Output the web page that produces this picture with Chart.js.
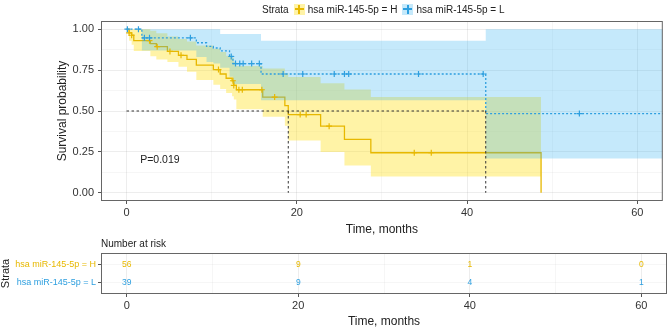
<!DOCTYPE html>
<html><head><meta charset="utf-8">
<script src="https://cdn.jsdelivr.net/npm/chart.js@4.4.1/dist/chart.umd.min.js"></script>
<style>
html,body{margin:0;padding:0;background:#fff;}
body{width:668px;height:330px;overflow:hidden;position:relative;font-family:"Liberation Sans",Arial,Helvetica,sans-serif;}
#main{position:absolute;left:0;top:0;}
#risk{position:absolute;left:0;top:240px;}
.legend{position:absolute;top:1px;left:262px;height:16px;font-size:10px;color:#222;display:flex;align-items:center;white-space:nowrap;}
.key{display:inline-block;width:11px;height:11px;position:relative;margin:0 3px 0 5px;}
.key i{position:absolute;display:block;}
.risktitle{position:absolute;left:101px;top:238px;font-size:10px;color:#222;}
</style></head>
<body>
<canvas id="main" width="668" height="240"></canvas>
<canvas id="risk" width="668" height="90"></canvas>
<div class="legend" id="legend"></div>
<div class="risktitle">Number at risk</div>
<script>
// ---------------- data ----------------
const strataLabels = ['hsa miR-145-5p = H', 'hsa miR-145-5p = L'];
const xTicks = [0, 10, 20, 30, 40, 50, 60];
const yTicks = [0, 0.125, 0.25, 0.375, 0.5, 0.625, 0.75, 0.875, 1];

// group H (high)
const hTime  = [0, 0.3, 0.6, 0.85, 2.8, 3.5, 4.8, 6.1, 7.1, 8.2, 10.2, 11.0, 11.7, 12.4, 12.6, 12.9, 16.0, 18.6, 19.0, 22.8, 25.6, 28.7, 48.7];
const hSurv  = [1.0, 0.977, 0.963, 0.93, 0.912, 0.893, 0.864, 0.84, 0.815, 0.78, 0.753, 0.726, 0.70, 0.685, 0.656, 0.63, 0.585, 0.533, 0.478, 0.407, 0.327, 0.245, 0];
const hUpper = [1.0, 1.0, 1.0, 1.0, 0.99, 0.975, 0.955, 0.94, 0.925, 0.90, 0.88, 0.86, 0.837, 0.825, 0.80, 0.775, 0.76, 0.73, 0.708, 0.67, 0.632, 0.585, 0.585];
const hLower = [1.0, 0.93, 0.905, 0.866, 0.835, 0.815, 0.80, 0.77, 0.74, 0.69, 0.66, 0.635, 0.61, 0.59, 0.57, 0.51, 0.465, 0.41, 0.32, 0.25, 0.167, 0.10, 0.10];
const hCensor = [0.3, 0.6, 2.7, 3.6, 5.1, 6.4, 10.8, 12.5, 12.6, 13.2, 13.6, 15.9, 17.4, 20.4, 21.1, 23.8, 33.8, 35.8];

// group L (low)
const lTime  = [0, 1.8, 8.2, 9.4, 10.2, 11.0, 12.1, 12.5, 15.8, 42.2, 63.0];
const lSurv  = [1.0, 0.947, 0.917, 0.895, 0.885, 0.868, 0.833, 0.79, 0.726, 0.484, 0.484];
const lUpper = [1.0, 1.0, 1.0, 1.0, 1.0, 0.97, 0.97, 0.97, 0.93, 1.0, 1.0];
const lLower = [1.0, 0.87, 0.83, 0.80, 0.79, 0.765, 0.71, 0.665, 0.565, 0.21, 0.21];
const lCensor = [0.1, 1.4, 2.1, 2.7, 7.5, 12.3, 12.8, 13.3, 13.7, 14.7, 15.6, 18.4, 20.7, 24.4, 25.6, 26.1, 34.3, 41.9, 53.2];

const medianH = 19.0;
const medianL = 42.2;
const pValueText = 'P=0.019';

// number at risk
const riskTimes = [0, 20, 40, 60];
const riskH = [56, 9, 1, 0];
const riskL = [39, 9, 4, 1];

// ---------------- style ----------------
const C_H = '#E7B800', C_L = '#2E9FDF';
const BAND_H = 'rgba(255,221,0,0.35)', BAND_L = 'rgba(40,175,240,0.27)';
const FONT = '"Liberation Sans", Arial, Helvetica, sans-serif';
const TICK_COL = '#333', TITLE_COL = '#222';

// legend
(function(){
  const lg = document.getElementById('legend');
  const mk = (col, band) => `<span class="key" style="background:${band}"><i style="left:1px;top:4.75px;width:9px;height:1.5px;background:${col}"></i><i style="left:4.75px;top:1px;width:1.5px;height:9px;background:${col}"></i></span>`;
  lg.innerHTML = `<span>Strata</span>${mk(C_H, BAND_H)}<span>${strataLabels[0]}</span>${mk(C_L, BAND_L)}<span>${strataLabels[1]}</span>`;
})();

const zip = (xs, ys) => xs.map((x, i) => ({x: x, y: ys[i]}));
function survAt(times, survs, t) {
  let v = survs[0];
  for (let i = 0; i < times.length; i++) { if (times[i] <= t) v = survs[i]; }
  return v;
}

const xScaleCommon = {
  type: 'linear', min: -3, max: 63,
  afterBuildTicks: s => { s.ticks = xTicks.map(v => ({value: v})); },
  ticks: { autoSkip: false, maxRotation: 0, padding: 2, color: TICK_COL, font: {family: FONT, size: 11},
           callback: v => (v % 20 === 0 ? String(v) : '') },
  grid: { color: c => (c.tick && c.tick.value % 20 === 0) ? 'rgba(0,0,0,0.07)' : 'rgba(0,0,0,0.035)',
          tickColor: c => (c.tick && c.tick.value % 20 === 0) ? '#555' : 'rgba(0,0,0,0)',
          tickLength: 3, lineWidth: 1 },
  border: { display: false },
  title: { display: true, text: 'Time, months', color: TITLE_COL, font: {family: FONT, size: 12}, padding: {top: 0, bottom: 3} }
};

const panelBox = {
  id: 'panelBox',
  afterDatasetsDraw(chart) {
    const a = chart.chartArea, ctx = chart.ctx;
    ctx.save();
    ctx.strokeStyle = '#666';
    ctx.lineWidth = 1;
    ctx.strokeRect(a.left + 0.5, a.top + 0.5, a.right - a.left - 1, a.bottom - a.top - 1);
    ctx.restore();
  }
};

const pvalPlugin = {
  id: 'pval',
  afterDatasetsDraw(chart) {
    const ctx = chart.ctx, xs = chart.scales.x, ys = chart.scales.y;
    ctx.save();
    ctx.font = '10.5px ' + FONT;
    ctx.fillStyle = '#222';
    ctx.textAlign = 'left';
    ctx.textBaseline = 'middle';
    ctx.fillText(pValueText, xs.getPixelForValue(1.6), ys.getPixelForValue(0.2));
    ctx.restore();
  }
};

const line = (data, extra) => Object.assign({data: data, pointRadius: 0, borderWidth: 0, stepped: 'before', fill: false}, extra);

new Chart(document.getElementById('main'), {
  type: 'line',
  data: { datasets: [
    line(zip(hTime, hUpper), {fill: '+1', backgroundColor: BAND_H, order: 10}),
    line(zip(hTime, hLower), {order: 10}),
    line(zip(hTime, hSurv), {borderColor: C_H, borderWidth: 1.3, order: 9}),
    line(zip(lTime, lUpper), {fill: '+1', backgroundColor: BAND_L, order: 8}),
    line(zip(lTime, lLower), {order: 8}),
    line(zip(lTime, lSurv), {borderColor: C_L, borderWidth: 1.3, borderDash: [2, 2], order: 7}),
    {type: 'scatter', data: hCensor.map(t => ({x: t, y: survAt(hTime, hSurv, t)})), showLine: false,
     pointStyle: 'cross', pointRadius: 3, borderColor: C_H, borderWidth: 1.2, order: 6},
    {type: 'scatter', data: lCensor.map(t => ({x: t, y: survAt(lTime, lSurv, t)})), showLine: false,
     pointStyle: 'cross', pointRadius: 3, borderColor: C_L, borderWidth: 1.2, order: 5},
    line([{x: 0, y: 0.5}, {x: medianL, y: 0.5}], {stepped: false, borderColor: '#333', borderWidth: 1, borderDash: [2.5, 2.5], order: 4}),
    line([{x: medianH, y: 0.5}, {x: medianH, y: 0}], {stepped: false, borderColor: '#333', borderWidth: 1, borderDash: [2.5, 2.5], order: 4}),
    line([{x: medianL, y: 0.5}, {x: medianL, y: 0}], {stepped: false, borderColor: '#333', borderWidth: 1, borderDash: [2.5, 2.5], order: 4})
  ]},
  options: {
    responsive: false, animation: false, devicePixelRatio: 1,
    layout: { padding: {top: 21, right: 1, left: 0, bottom: 0} },
    plugins: { legend: {display: false}, tooltip: {enabled: false} },
    scales: {
      x: Object.assign({}, xScaleCommon, { afterFit: s => { s.height = 39; } }),
      y: {
        type: 'linear', min: -0.05, max: 1.05,
        afterBuildTicks: s => { s.ticks = yTicks.map(v => ({value: v})); },
        afterFit: s => { s.width = 101; },
        ticks: { autoSkip: false, padding: 4, color: TICK_COL, font: {family: FONT, size: 11},
                 callback: v => ((v * 4) % 1 === 0 ? Number(v).toFixed(2) : '') },
        grid: { color: c => (c.tick && (c.tick.value * 4) % 1 === 0) ? 'rgba(0,0,0,0.07)' : 'rgba(0,0,0,0.035)',
                tickColor: c => (c.tick && (c.tick.value * 4) % 1 === 0) ? '#555' : 'rgba(0,0,0,0)',
                tickLength: 3 },
        border: { display: false },
        title: { display: true, text: 'Survival probability', color: TITLE_COL, font: {family: FONT, size: 12}, padding: {top: 55, bottom: 0} }
      }
    }
  },
  plugins: [panelBox, pvalPlugin]
});

// ---------------- risk table ----------------
const riskRows = [ {row: 2, label: strataLabels[0], color: C_H, values: riskH},
                   {row: 1, label: strataLabels[1], color: C_L, values: riskL} ];

const riskPlugin = {
  id: 'riskNumbers',
  afterDatasetsDraw(chart) {
    const ctx = chart.ctx, xs = chart.scales.x, ys = chart.scales.y;
    ctx.save();
    ctx.font = '8.5px ' + FONT;
    ctx.textAlign = 'center';
    ctx.textBaseline = 'middle';
    riskRows.forEach(r => {
      ctx.fillStyle = r.color;
      riskTimes.forEach((t, i) => ctx.fillText(String(r.values[i]), xs.getPixelForValue(t), ys.getPixelForValue(r.row)));
    });
    ctx.restore();
  }
};

new Chart(document.getElementById('risk'), {
  type: 'scatter',
  data: { datasets: [] },
  options: {
    responsive: false, animation: false, devicePixelRatio: 1,
    layout: { padding: {top: 13, right: 1, left: 0, bottom: 0} },
    plugins: { legend: {display: false}, tooltip: {enabled: false} },
    scales: {
      x: Object.assign({}, xScaleCommon, {
        afterFit: s => { s.height = 36; },
        title: { display: true, text: 'Time, months', color: TITLE_COL, font: {family: FONT, size: 12}, padding: {top: 0, bottom: 1} }
      }),
      y: {
        type: 'linear', min: 0.4, max: 2.6,
        afterBuildTicks: s => { s.ticks = riskRows.map(r => ({value: r.row})); },
        afterFit: s => { s.width = 101; },
        ticks: { autoSkip: false, padding: 2, font: {family: FONT, size: 9},
                 color: c => { const r = riskRows.find(q => q.row === (c.tick && c.tick.value)); return r ? r.color : '#333'; },
                 callback: v => { const r = riskRows.find(q => q.row === v); return r ? r.label : ''; } },
        grid: { color: 'rgba(0,0,0,0.035)', tickColor: '#555', tickLength: 3 },
        border: { display: false },
        title: { display: true, text: 'Strata', color: TITLE_COL, font: {family: FONT, size: 11, lineHeight: 1}, padding: {top: 0, bottom: 0} }
      }
    }
  },
  plugins: [panelBox, riskPlugin]
});
</script>
</body></html>
